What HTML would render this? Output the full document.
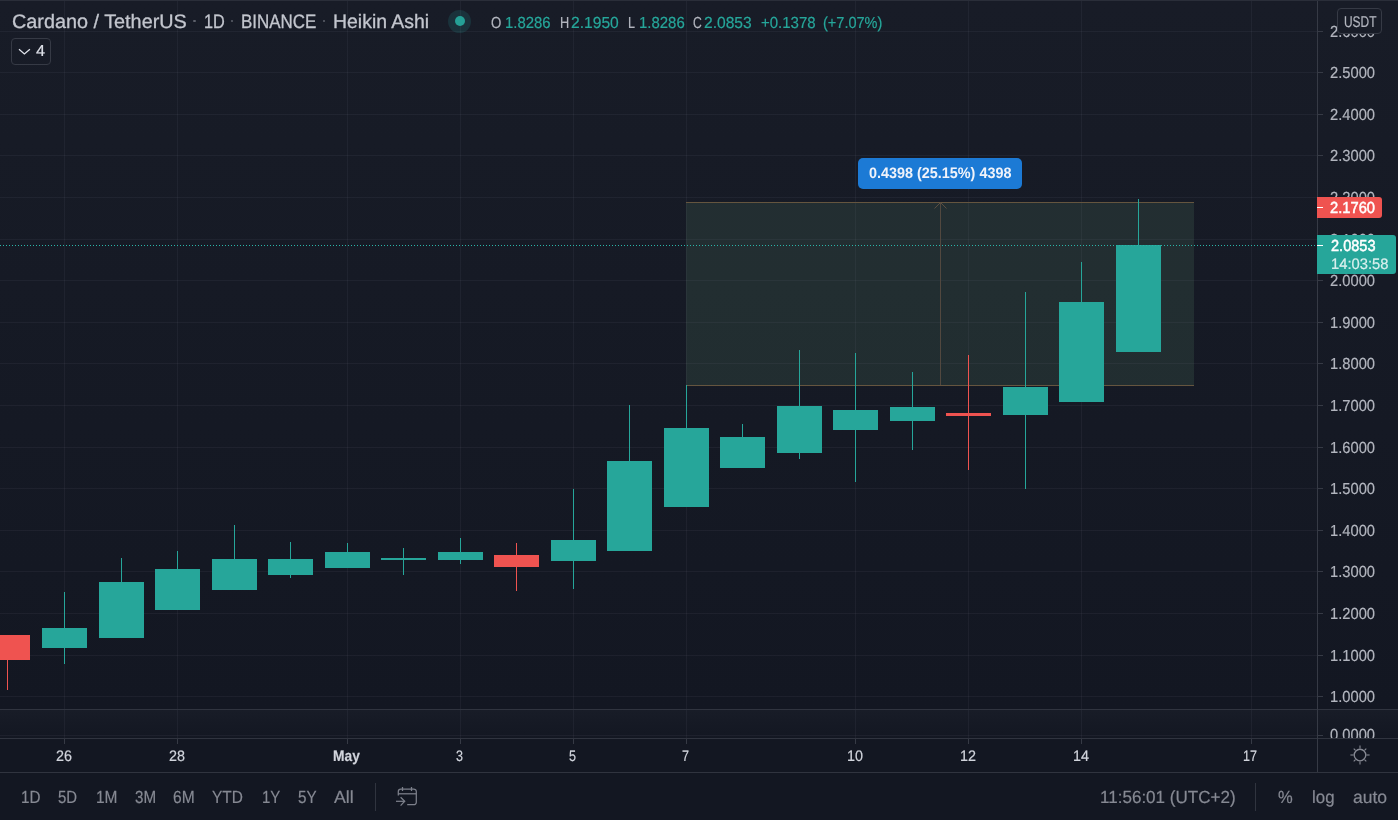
<!DOCTYPE html>
<html><head><meta charset="utf-8"><title>ADAUSDT</title>
<style>
html,body{margin:0;padding:0;background:#131722;}
body{width:1398px;height:820px;position:relative;overflow:hidden;font-family:"Liberation Sans",sans-serif;}
.r{position:absolute;}
.t{position:absolute;white-space:nowrap;transform-origin:0 0;text-rendering:geometricPrecision;-webkit-text-stroke:0.2px;}
</style></head><body>
<div class="r" style="left:0px;top:0px;width:1398px;height:820px;background:#131722;"></div>
<div class="r" style="left:0px;top:1px;width:1398px;height:708px;background:none;background:linear-gradient(#181c27,#131722);"></div>
<div class="r" style="left:0px;top:710px;width:1398px;height:28px;background:none;background:linear-gradient(#181c27,#131722);"></div>
<div class="r" style="left:0px;top:0px;width:1398px;height:1px;background:#2a2e39;"></div>
<div class="r" style="left:0px;top:696px;width:1317px;height:1px;background:rgba(240,243,250,0.047);"></div>
<div class="r" style="left:0px;top:655px;width:1317px;height:1px;background:rgba(240,243,250,0.047);"></div>
<div class="r" style="left:0px;top:613px;width:1317px;height:1px;background:rgba(240,243,250,0.047);"></div>
<div class="r" style="left:0px;top:571px;width:1317px;height:1px;background:rgba(240,243,250,0.047);"></div>
<div class="r" style="left:0px;top:530px;width:1317px;height:1px;background:rgba(240,243,250,0.047);"></div>
<div class="r" style="left:0px;top:488px;width:1317px;height:1px;background:rgba(240,243,250,0.047);"></div>
<div class="r" style="left:0px;top:447px;width:1317px;height:1px;background:rgba(240,243,250,0.047);"></div>
<div class="r" style="left:0px;top:405px;width:1317px;height:1px;background:rgba(240,243,250,0.047);"></div>
<div class="r" style="left:0px;top:363px;width:1317px;height:1px;background:rgba(240,243,250,0.047);"></div>
<div class="r" style="left:0px;top:322px;width:1317px;height:1px;background:rgba(240,243,250,0.047);"></div>
<div class="r" style="left:0px;top:280px;width:1317px;height:1px;background:rgba(240,243,250,0.047);"></div>
<div class="r" style="left:0px;top:239px;width:1317px;height:1px;background:rgba(240,243,250,0.047);"></div>
<div class="r" style="left:0px;top:197px;width:1317px;height:1px;background:rgba(240,243,250,0.047);"></div>
<div class="r" style="left:0px;top:155px;width:1317px;height:1px;background:rgba(240,243,250,0.047);"></div>
<div class="r" style="left:0px;top:114px;width:1317px;height:1px;background:rgba(240,243,250,0.047);"></div>
<div class="r" style="left:0px;top:72px;width:1317px;height:1px;background:rgba(240,243,250,0.047);"></div>
<div class="r" style="left:0px;top:31px;width:1317px;height:1px;background:rgba(240,243,250,0.047);"></div>
<div class="r" style="left:64px;top:1px;width:1px;height:737px;background:rgba(240,243,250,0.047);"></div>
<div class="r" style="left:64px;top:739px;width:1px;height:5px;background:#363a45;"></div>
<div class="r" style="left:177px;top:1px;width:1px;height:737px;background:rgba(240,243,250,0.047);"></div>
<div class="r" style="left:177px;top:739px;width:1px;height:5px;background:#363a45;"></div>
<div class="r" style="left:347px;top:1px;width:1px;height:737px;background:rgba(240,243,250,0.047);"></div>
<div class="r" style="left:347px;top:739px;width:1px;height:5px;background:#363a45;"></div>
<div class="r" style="left:460px;top:1px;width:1px;height:737px;background:rgba(240,243,250,0.047);"></div>
<div class="r" style="left:460px;top:739px;width:1px;height:5px;background:#363a45;"></div>
<div class="r" style="left:573px;top:1px;width:1px;height:737px;background:rgba(240,243,250,0.047);"></div>
<div class="r" style="left:573px;top:739px;width:1px;height:5px;background:#363a45;"></div>
<div class="r" style="left:686px;top:1px;width:1px;height:737px;background:rgba(240,243,250,0.047);"></div>
<div class="r" style="left:686px;top:739px;width:1px;height:5px;background:#363a45;"></div>
<div class="r" style="left:855px;top:1px;width:1px;height:737px;background:rgba(240,243,250,0.047);"></div>
<div class="r" style="left:855px;top:739px;width:1px;height:5px;background:#363a45;"></div>
<div class="r" style="left:968px;top:1px;width:1px;height:737px;background:rgba(240,243,250,0.047);"></div>
<div class="r" style="left:968px;top:739px;width:1px;height:5px;background:#363a45;"></div>
<div class="r" style="left:1081px;top:1px;width:1px;height:737px;background:rgba(240,243,250,0.047);"></div>
<div class="r" style="left:1081px;top:739px;width:1px;height:5px;background:#363a45;"></div>
<div class="r" style="left:1251px;top:1px;width:1px;height:737px;background:rgba(240,243,250,0.047);"></div>
<div class="r" style="left:1251px;top:739px;width:1px;height:5px;background:#363a45;"></div>
<div class="r" style="left:686px;top:202px;width:508px;height:184px;background:rgba(109,159,124,0.15);"></div>
<div class="r" style="left:686px;top:202px;width:508px;height:1px;background:#65553f;"></div>
<div class="r" style="left:686px;top:385px;width:508px;height:1px;background:#65553f;"></div>
<div class="r" style="left:940px;top:203px;width:1px;height:182px;background:#52483f;"></div>
<svg class="r" style="left:930px;top:198px" width="21" height="14" viewBox="0 0 21 14"><path d="M4.5 10.5 L10.5 4.5 L16.5 10.5" fill="none" stroke="#5a4e41" stroke-width="1"/></svg>
<div class="r" style="left:7px;top:635px;width:1px;height:55px;background:#ef5350;"></div>
<div class="r" style="left:-15px;top:635px;width:45px;height:25px;background:#ef5350;"></div>
<div class="r" style="left:64px;top:592px;width:1px;height:72px;background:#26a69a;"></div>
<div class="r" style="left:42px;top:628px;width:45px;height:20px;background:#26a69a;"></div>
<div class="r" style="left:121px;top:558px;width:1px;height:80px;background:#26a69a;"></div>
<div class="r" style="left:99px;top:582px;width:45px;height:56px;background:#26a69a;"></div>
<div class="r" style="left:177px;top:551px;width:1px;height:59px;background:#26a69a;"></div>
<div class="r" style="left:155px;top:569px;width:45px;height:41px;background:#26a69a;"></div>
<div class="r" style="left:234px;top:525px;width:1px;height:65px;background:#26a69a;"></div>
<div class="r" style="left:212px;top:559px;width:45px;height:31px;background:#26a69a;"></div>
<div class="r" style="left:290px;top:542px;width:1px;height:36px;background:#26a69a;"></div>
<div class="r" style="left:268px;top:559px;width:45px;height:16px;background:#26a69a;"></div>
<div class="r" style="left:347px;top:543px;width:1px;height:25px;background:#26a69a;"></div>
<div class="r" style="left:325px;top:552px;width:45px;height:16px;background:#26a69a;"></div>
<div class="r" style="left:403px;top:548px;width:1px;height:27px;background:#26a69a;"></div>
<div class="r" style="left:381px;top:558px;width:45px;height:2px;background:#26a69a;"></div>
<div class="r" style="left:460px;top:538px;width:1px;height:26px;background:#26a69a;"></div>
<div class="r" style="left:438px;top:552px;width:45px;height:8px;background:#26a69a;"></div>
<div class="r" style="left:516px;top:543px;width:1px;height:48px;background:#ef5350;"></div>
<div class="r" style="left:494px;top:555px;width:45px;height:12px;background:#ef5350;"></div>
<div class="r" style="left:573px;top:489px;width:1px;height:100px;background:#26a69a;"></div>
<div class="r" style="left:551px;top:540px;width:45px;height:21px;background:#26a69a;"></div>
<div class="r" style="left:629px;top:405px;width:1px;height:146px;background:#26a69a;"></div>
<div class="r" style="left:607px;top:461px;width:45px;height:90px;background:#26a69a;"></div>
<div class="r" style="left:686px;top:385px;width:1px;height:122px;background:#26a69a;"></div>
<div class="r" style="left:664px;top:428px;width:45px;height:79px;background:#26a69a;"></div>
<div class="r" style="left:742px;top:424px;width:1px;height:44px;background:#26a69a;"></div>
<div class="r" style="left:720px;top:437px;width:45px;height:31px;background:#26a69a;"></div>
<div class="r" style="left:799px;top:350px;width:1px;height:109px;background:#26a69a;"></div>
<div class="r" style="left:777px;top:406px;width:45px;height:47px;background:#26a69a;"></div>
<div class="r" style="left:855px;top:353px;width:1px;height:129px;background:#26a69a;"></div>
<div class="r" style="left:833px;top:410px;width:45px;height:20px;background:#26a69a;"></div>
<div class="r" style="left:912px;top:372px;width:1px;height:78px;background:#26a69a;"></div>
<div class="r" style="left:890px;top:407px;width:45px;height:14px;background:#26a69a;"></div>
<div class="r" style="left:968px;top:355px;width:1px;height:115px;background:#ef5350;"></div>
<div class="r" style="left:946px;top:413px;width:45px;height:3px;background:#ef5350;"></div>
<div class="r" style="left:1025px;top:292px;width:1px;height:197px;background:#26a69a;"></div>
<div class="r" style="left:1003px;top:387px;width:45px;height:28px;background:#26a69a;"></div>
<div class="r" style="left:1081px;top:262px;width:1px;height:140px;background:#26a69a;"></div>
<div class="r" style="left:1059px;top:302px;width:45px;height:100px;background:#26a69a;"></div>
<div class="r" style="left:1138px;top:199px;width:1px;height:153px;background:#26a69a;"></div>
<div class="r" style="left:1116px;top:245px;width:45px;height:107px;background:#26a69a;"></div>
<div class="r" style="left:0;top:245px;width:1317px;height:1px;background:repeating-linear-gradient(90deg,#2ab5a8 0 1px,transparent 1px 3px);"></div>
<div class="r" style="left:0px;top:709px;width:1398px;height:1px;background:#30343f;"></div>
<div class="r" style="left:0px;top:735px;width:1317px;height:1px;background:rgba(240,243,250,0.047);"></div>
<div class="r" style="left:0px;top:738px;width:1398px;height:1px;background:#30343f;"></div>
<div class="r" style="left:0px;top:772px;width:1398px;height:1px;background:#30343f;"></div>
<div class="r" style="left:1317px;top:1px;width:1px;height:771px;background:#363a45;"></div>
<div class="r" style="left:1318px;top:696px;width:5px;height:1px;background:#363a45;"></div>
<span class="t" style="left:1330.00px;top:690px;font-size:16px;line-height:16px;color:#b2b5be;transform:scaleX(0.9194);">1.0000</span>
<div class="r" style="left:1318px;top:655px;width:5px;height:1px;background:#363a45;"></div>
<span class="t" style="left:1330.00px;top:649px;font-size:16px;line-height:16px;color:#b2b5be;transform:scaleX(0.9194);">1.1000</span>
<div class="r" style="left:1318px;top:613px;width:5px;height:1px;background:#363a45;"></div>
<span class="t" style="left:1330.00px;top:607px;font-size:16px;line-height:16px;color:#b2b5be;transform:scaleX(0.9194);">1.2000</span>
<div class="r" style="left:1318px;top:571px;width:5px;height:1px;background:#363a45;"></div>
<span class="t" style="left:1330.00px;top:565px;font-size:16px;line-height:16px;color:#b2b5be;transform:scaleX(0.9194);">1.3000</span>
<div class="r" style="left:1318px;top:530px;width:5px;height:1px;background:#363a45;"></div>
<span class="t" style="left:1330.00px;top:524px;font-size:16px;line-height:16px;color:#b2b5be;transform:scaleX(0.9194);">1.4000</span>
<div class="r" style="left:1318px;top:488px;width:5px;height:1px;background:#363a45;"></div>
<span class="t" style="left:1330.00px;top:482px;font-size:16px;line-height:16px;color:#b2b5be;transform:scaleX(0.9194);">1.5000</span>
<div class="r" style="left:1318px;top:447px;width:5px;height:1px;background:#363a45;"></div>
<span class="t" style="left:1330.00px;top:441px;font-size:16px;line-height:16px;color:#b2b5be;transform:scaleX(0.9194);">1.6000</span>
<div class="r" style="left:1318px;top:405px;width:5px;height:1px;background:#363a45;"></div>
<span class="t" style="left:1330.00px;top:399px;font-size:16px;line-height:16px;color:#b2b5be;transform:scaleX(0.9194);">1.7000</span>
<div class="r" style="left:1318px;top:363px;width:5px;height:1px;background:#363a45;"></div>
<span class="t" style="left:1330.00px;top:357px;font-size:16px;line-height:16px;color:#b2b5be;transform:scaleX(0.9194);">1.8000</span>
<div class="r" style="left:1318px;top:322px;width:5px;height:1px;background:#363a45;"></div>
<span class="t" style="left:1330.00px;top:316px;font-size:16px;line-height:16px;color:#b2b5be;transform:scaleX(0.9194);">1.9000</span>
<div class="r" style="left:1318px;top:280px;width:5px;height:1px;background:#363a45;"></div>
<span class="t" style="left:1330.00px;top:274px;font-size:16px;line-height:16px;color:#b2b5be;transform:scaleX(0.9194);">2.0000</span>
<div class="r" style="left:1318px;top:239px;width:5px;height:1px;background:#363a45;"></div>
<span class="t" style="left:1330.00px;top:233px;font-size:16px;line-height:16px;color:#b2b5be;transform:scaleX(0.9194);">2.1000</span>
<div class="r" style="left:1318px;top:197px;width:5px;height:1px;background:#363a45;"></div>
<span class="t" style="left:1330.00px;top:191px;font-size:16px;line-height:16px;color:#b2b5be;transform:scaleX(0.9194);">2.2000</span>
<div class="r" style="left:1318px;top:155px;width:5px;height:1px;background:#363a45;"></div>
<span class="t" style="left:1330.00px;top:149px;font-size:16px;line-height:16px;color:#b2b5be;transform:scaleX(0.9194);">2.3000</span>
<div class="r" style="left:1318px;top:114px;width:5px;height:1px;background:#363a45;"></div>
<span class="t" style="left:1330.00px;top:108px;font-size:16px;line-height:16px;color:#b2b5be;transform:scaleX(0.9194);">2.4000</span>
<div class="r" style="left:1318px;top:72px;width:5px;height:1px;background:#363a45;"></div>
<span class="t" style="left:1330.00px;top:66px;font-size:16px;line-height:16px;color:#b2b5be;transform:scaleX(0.9194);">2.5000</span>
<div class="r" style="left:1318px;top:31px;width:5px;height:1px;background:#363a45;"></div>
<span class="t" style="left:1330.00px;top:25px;font-size:16px;line-height:16px;color:#b2b5be;transform:scaleX(0.9194);">2.6000</span>
<div class="r" style="left:1318px;top:720px;width:80px;height:18px;overflow:hidden">
<span class="t" style="left:12.00px;top:8px;font-size:16px;line-height:16px;color:#b2b5be;transform:scaleX(0.9194);">0.0000</span>
</div>
<div class="r" style="left:1318px;top:735px;width:5px;height:1px;background:#363a45;"></div>
<div class="r" style="left:1337px;top:8px;width:43px;height:24px;border:1px solid #363a45;border-radius:4px;background:#181c27"></div>
<span class="t" style="left:1343.50px;top:15px;font-size:15.5px;line-height:15.5px;color:#b2b5be;transform:scaleX(0.7703);">USDT</span>
<div class="r" style="left:1317px;top:197px;width:65px;height:21px;background:#ef5350;border-radius:0 3px 3px 0;"></div>
<div class="r" style="left:1317px;top:207px;width:6px;height:1px;background:#fff;"></div>
<span class="t" style="left:1330.00px;top:201px;font-size:16px;line-height:16px;color:#fff;transform:scaleX(0.9194);-webkit-text-stroke:0.5px;">2.1760</span>
<div class="r" style="left:1317px;top:235px;width:79px;height:39px;background:#26a69a;border-radius:0 3px 3px 0;"></div>
<div class="r" style="left:1317px;top:245px;width:6px;height:1px;background:#fff;"></div>
<span class="t" style="left:1330.50px;top:239px;font-size:16px;line-height:16px;color:#fff;transform:scaleX(0.9092);-webkit-text-stroke:0.5px;">2.0853</span>
<span class="t" style="left:1330.50px;top:257px;font-size:15.2px;line-height:15.2px;color:rgba(255,255,255,0.8);transform:scaleX(0.9717);">14:03:58</span>
<div class="r" style="left:858px;top:158px;width:164px;height:31px;background:#1c7ad5;border-radius:5px;"></div>
<span class="t" style="left:868.50px;top:166px;font-size:15.2px;line-height:15.2px;color:#f0f3fa;transform:scaleX(0.9473);font-weight:bold;-webkit-text-stroke:0;">0.4398 (25.15%) 4398</span>
<span class="t" style="left:11.50px;top:13px;font-size:19.5px;line-height:19.5px;color:#c3c6ce;transform:scaleX(1.0163);-webkit-text-stroke:0.3px;">Cardano / TetherUS</span>
<span class="t" style="left:203.60px;top:13px;font-size:19.5px;line-height:19.5px;color:#c3c6ce;transform:scaleX(0.8346);-webkit-text-stroke:0.3px;">1D</span>
<span class="t" style="left:240.70px;top:13px;font-size:19.5px;line-height:19.5px;color:#c3c6ce;transform:scaleX(0.8687);-webkit-text-stroke:0.3px;">BINANCE</span>
<span class="t" style="left:332.80px;top:13px;font-size:19.5px;line-height:19.5px;color:#c3c6ce;transform:scaleX(0.9972);-webkit-text-stroke:0.3px;">Heikin Ashi</span>
<div class="r" style="left:193.3px;top:19.8px;width:2.4px;height:2.4px;border-radius:50%;background:#5d606b"></div>
<div class="r" style="left:230.8px;top:19.8px;width:2.4px;height:2.4px;border-radius:50%;background:#5d606b"></div>
<div class="r" style="left:322.8px;top:19.8px;width:2.4px;height:2.4px;border-radius:50%;background:#5d606b"></div>
<div class="r" style="left:448px;top:9.5px;width:23px;height:23px;border-radius:50%;background:rgba(38,150,150,0.19)"></div>
<div class="r" style="left:454.6px;top:15.6px;width:10.4px;height:10.4px;border-radius:50%;background:#25a096"></div>
<span class="t" style="left:491.20px;top:16px;font-size:16px;line-height:16px;color:#b2b5be;transform:scaleX(0.8274);">O</span>
<span class="t" style="left:505.30px;top:16px;font-size:16px;line-height:16px;color:#26a69a;transform:scaleX(0.9296);">1.8286</span>
<span class="t" style="left:559.80px;top:16px;font-size:16px;line-height:16px;color:#b2b5be;transform:scaleX(0.7964);">H</span>
<span class="t" style="left:571.20px;top:16px;font-size:16px;line-height:16px;color:#26a69a;transform:scaleX(0.9766);">2.1950</span>
<span class="t" style="left:628.00px;top:16px;font-size:16px;line-height:16px;color:#b2b5be;transform:scaleX(0.7869);">L</span>
<span class="t" style="left:638.80px;top:16px;font-size:16px;line-height:16px;color:#26a69a;transform:scaleX(0.9337);">1.8286</span>
<span class="t" style="left:692.90px;top:16px;font-size:16px;line-height:16px;color:#b2b5be;transform:scaleX(0.7618);">C</span>
<span class="t" style="left:703.80px;top:16px;font-size:16px;line-height:16px;color:#26a69a;transform:scaleX(0.9746);">2.0853</span>
<span class="t" style="left:761.20px;top:16px;font-size:16px;line-height:16px;color:#26a69a;transform:scaleX(0.9367);">+0.1378</span>
<span class="t" style="left:823.30px;top:16px;font-size:16px;line-height:16px;color:#26a69a;transform:scaleX(0.9073);">(+7.07%)</span>
<div class="r" style="left:11px;top:38px;width:38px;height:25px;border:1px solid #363a45;border-radius:4px;"></div>
<svg class="r" style="left:16px;top:45px" width="18" height="14" viewBox="0 0 18 14"><path d="M3 4.3 L8.4 9 L13.9 4.3" fill="none" stroke="#e0e3eb" stroke-width="1.3"/></svg>
<span class="t" style="left:36.00px;top:44px;font-size:16px;line-height:16px;color:#e0e3eb;transform:scaleX(1.0117);">4</span>
<span class="t" style="left:55.70px;top:749px;font-size:15.2px;line-height:15.2px;color:#d1d4dc;transform:scaleX(0.9466);">26</span>
<span class="t" style="left:168.70px;top:749px;font-size:15.2px;line-height:15.2px;color:#d1d4dc;transform:scaleX(0.9466);">28</span>
<span class="t" style="left:333.30px;top:749px;font-size:15.2px;line-height:15.2px;color:#d1d4dc;transform:scaleX(0.9065);font-weight:bold;">May</span>
<span class="t" style="left:455.80px;top:749px;font-size:15.2px;line-height:15.2px;color:#d1d4dc;transform:scaleX(0.8283);">3</span>
<span class="t" style="left:568.80px;top:749px;font-size:15.2px;line-height:15.2px;color:#d1d4dc;transform:scaleX(0.8283);">5</span>
<span class="t" style="left:681.80px;top:749px;font-size:15.2px;line-height:15.2px;color:#d1d4dc;transform:scaleX(0.8283);">7</span>
<span class="t" style="left:846.80px;top:749px;font-size:15.2px;line-height:15.2px;color:#d1d4dc;transform:scaleX(0.9466);">10</span>
<span class="t" style="left:959.80px;top:749px;font-size:15.2px;line-height:15.2px;color:#d1d4dc;transform:scaleX(0.9466);">12</span>
<span class="t" style="left:1072.80px;top:749px;font-size:15.2px;line-height:15.2px;color:#d1d4dc;transform:scaleX(0.9466);">14</span>
<span class="t" style="left:1243.40px;top:749px;font-size:15.2px;line-height:15.2px;color:#d1d4dc;transform:scaleX(0.8283);">17</span>
<span class="t" style="left:20.50px;top:789px;font-size:17.5px;line-height:17.5px;color:#868993;transform:scaleX(0.8719);">1D</span>
<span class="t" style="left:58.40px;top:789px;font-size:17.5px;line-height:17.5px;color:#868993;transform:scaleX(0.8540);">5D</span>
<span class="t" style="left:95.50px;top:789px;font-size:17.5px;line-height:17.5px;color:#868993;transform:scaleX(0.8845);">1M</span>
<span class="t" style="left:134.60px;top:789px;font-size:17.5px;line-height:17.5px;color:#868993;transform:scaleX(0.8680);">3M</span>
<span class="t" style="left:173.40px;top:789px;font-size:17.5px;line-height:17.5px;color:#868993;transform:scaleX(0.8886);">6M</span>
<span class="t" style="left:212.40px;top:789px;font-size:17.5px;line-height:17.5px;color:#868993;transform:scaleX(0.8829);">YTD</span>
<span class="t" style="left:261.50px;top:789px;font-size:17.5px;line-height:17.5px;color:#868993;transform:scaleX(0.8550);">1Y</span>
<span class="t" style="left:297.80px;top:789px;font-size:17.5px;line-height:17.5px;color:#868993;transform:scaleX(0.8691);">5Y</span>
<span class="t" style="left:334.30px;top:789px;font-size:17.5px;line-height:17.5px;color:#868993;transform:scaleX(1.0132);">All</span>
<div class="r" style="left:375px;top:783px;width:1px;height:28px;background:#30343f;"></div>
<svg class="r" style="left:392px;top:784px" width="28" height="26" viewBox="0 0 28 26"><g fill="none" stroke="#7d808b" stroke-width="1.25"><path d="M6.3 11.5 V7.5 a2.5 2.5 0 0 1 2.5 -2.5 H21.8 a2.5 2.5 0 0 1 2.5 2.5 V18.2 a2.5 2.5 0 0 1 -2.5 2.5 H15.2"/><path d="M6.3 9.8 H24.3"/><path d="M10.5 3 V7"/><path d="M19.5 3 V7"/><path d="M4 17.3 H12.3"/><path d="M8.6 13.2 L12.7 17.3 L8.6 21.6"/></g></svg>
<span class="t" style="left:1099.80px;top:789px;font-size:17.5px;line-height:17.5px;color:#868993;transform:scaleX(0.9737);">11:56:01 (UTC+2)</span>
<div class="r" style="left:1255px;top:783px;width:1px;height:28px;background:#30343f;"></div>
<span class="t" style="left:1278.40px;top:789px;font-size:17.5px;line-height:17.5px;color:#868993;transform:scaleX(0.9449);">%</span>
<span class="t" style="left:1312.00px;top:789px;font-size:17.5px;line-height:17.5px;color:#868993;transform:scaleX(0.9638);">log</span>
<span class="t" style="left:1353.30px;top:789px;font-size:17.5px;line-height:17.5px;color:#868993;transform:scaleX(1.0013);">auto</span>
<svg class="r" style="left:1346.9px;top:742.1px" width="26" height="26" viewBox="0 0 26 26"><g fill="none" stroke="#868993"><circle cx="13" cy="13" r="5.8" stroke-width="1.35"/><g stroke-width="1.1"><path d="M19.40 13.00 L22.60 13.00"/><path d="M17.53 17.53 L19.29 19.29"/><path d="M13.00 19.40 L13.00 22.60"/><path d="M8.47 17.53 L6.71 19.29"/><path d="M6.60 13.00 L3.40 13.00"/><path d="M8.47 8.47 L6.71 6.71"/><path d="M13.00 6.60 L13.00 3.40"/><path d="M17.53 8.47 L19.29 6.71"/></g></g></svg>
</body></html>
